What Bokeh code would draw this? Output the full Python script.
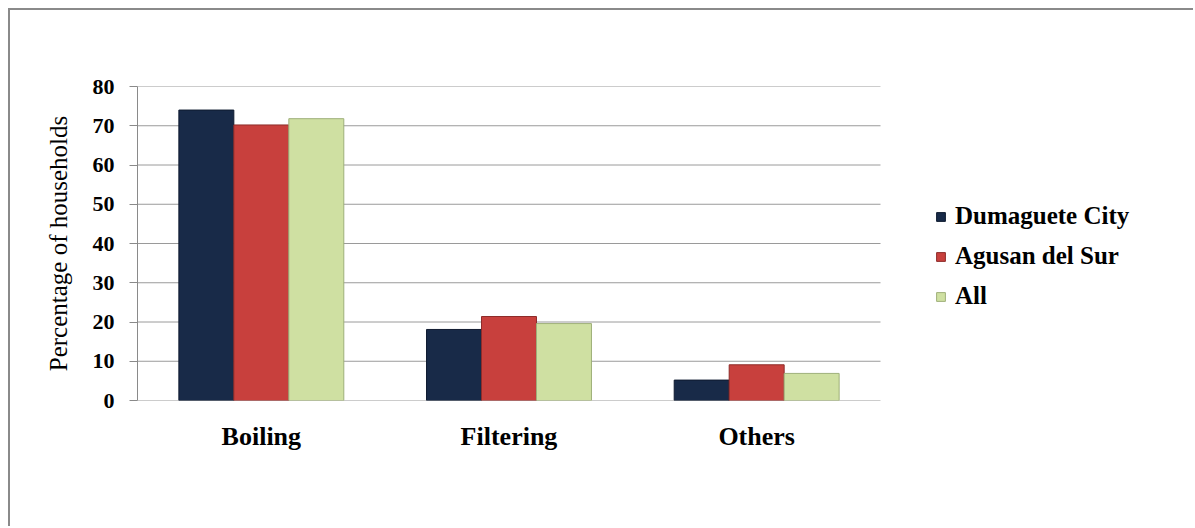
import numpy as np
from bokeh.plotting import figure
from bokeh.models import ColumnDataSource, Legend, LegendItem, Range1d, FixedTicker
from bokeh.embed import file_html
from bokeh.resources import INLINE

methods = ["Boiling", "Filtering", "Others"]
series = ["Dumaguete City", "Agusan del Sur", "All"]
dumaguete = [74.0, 18.1, 5.2]
agusan = [70.2, 21.4, 9.1]
all_hh = [71.8, 19.6, 6.9]
y_ticks = [0, 10, 20, 30, 40, 50, 60, 70, 80]

colors = ["#182a48", "#c8403d", "#cfe0a2"]
edges = ["#0f1b30", "#8e2c2a", "#9fb07a"]

n = len(methods)
xc = np.arange(n) + 0.5
src = ColumnDataSource(data=dict(x=xc, d=dumaguete, a=agusan, l=all_hh))

FONT = "Liberation Serif"
FRAME_W, PLOT_W = 1058, 743   # frame incl. legend area / category area, in px

p = figure(x_range=Range1d(0, n * FRAME_W / PLOT_W), y_range=Range1d(0, 80),
           width=1185, height=518, output_backend="svg", toolbar_location=None,
           min_border_left=127, min_border_right=0, min_border_top=76, min_border_bottom=128)
p.styles = {"margin-left": "8px", "margin-top": "8px",
            "border-left": "2px solid #8a8a8a", "border-top": "2px solid #8a8a8a"}
p.outline_line_color = None
p.background_fill_color = "white"
p.border_fill_color = "white"
p.xgrid.grid_line_color = None
p.ygrid.grid_line_color = None

# horizontal gridlines over the category area only
p.segment(x0=[0] * len(y_ticks), x1=[n] * len(y_ticks), y0=y_ticks, y1=y_ticks,
          line_color="#9a9a9a", line_width=1)

w = 0.222
renderers = []
for col, off, c, e in zip(["d", "a", "l"], [-w, 0.0, w], colors, edges):
    r = p.vbar(x=xc + off, top=src.data[col], width=w,
               fill_color=c, line_color=e, line_width=1)
    renderers.append(r)

p.yaxis.ticker = FixedTicker(ticks=y_ticks)
p.yaxis.axis_label = "Percentage of households"
p.yaxis.axis_label_text_font = FONT
p.yaxis.axis_label_text_font_style = "normal"
p.yaxis.axis_label_text_font_size = "25px"
p.yaxis.axis_label_text_color = "black"
p.yaxis.axis_label_standoff = 18
p.yaxis.major_label_text_font = FONT
p.yaxis.major_label_text_font_style = "bold"
p.yaxis.major_label_text_font_size = "22px"
p.yaxis.major_label_text_color = "black"
p.yaxis.major_label_standoff = 15
p.yaxis.axis_line_color = "#8a8a8a"
p.yaxis.major_tick_line_color = "#8a8a8a"
p.yaxis.major_tick_out = 8
p.yaxis.major_tick_in = 0
p.yaxis.minor_tick_line_color = None

p.xaxis.ticker = FixedTicker(ticks=list(xc))
p.xaxis.major_label_overrides = {float(x): m for x, m in zip(xc, methods)}
p.xaxis.axis_line_color = None
p.xaxis.major_tick_line_color = None
p.xaxis.minor_tick_line_color = None
p.xaxis.major_label_text_font = FONT
p.xaxis.major_label_text_font_style = "bold"
p.xaxis.major_label_text_font_size = "26px"
p.xaxis.major_label_text_color = "black"
p.xaxis.major_label_standoff = 15

legend = Legend(items=[LegendItem(label=s, renderers=[r]) for s, r in zip(series, renderers)],
                location=(798, 90))
legend.label_text_font = FONT
legend.label_text_font_style = "bold"
legend.label_text_font_size = "25px"
legend.label_text_color = "black"
legend.glyph_width = 11
legend.glyph_height = 11
legend.label_standoff = 9
legend.spacing = 12
legend.border_line_color = None
legend.background_fill_alpha = 0
legend.padding = 0
legend.margin = 0
p.add_layout(legend, "center")

open("out.html", "w").write(file_html(p, INLINE))
